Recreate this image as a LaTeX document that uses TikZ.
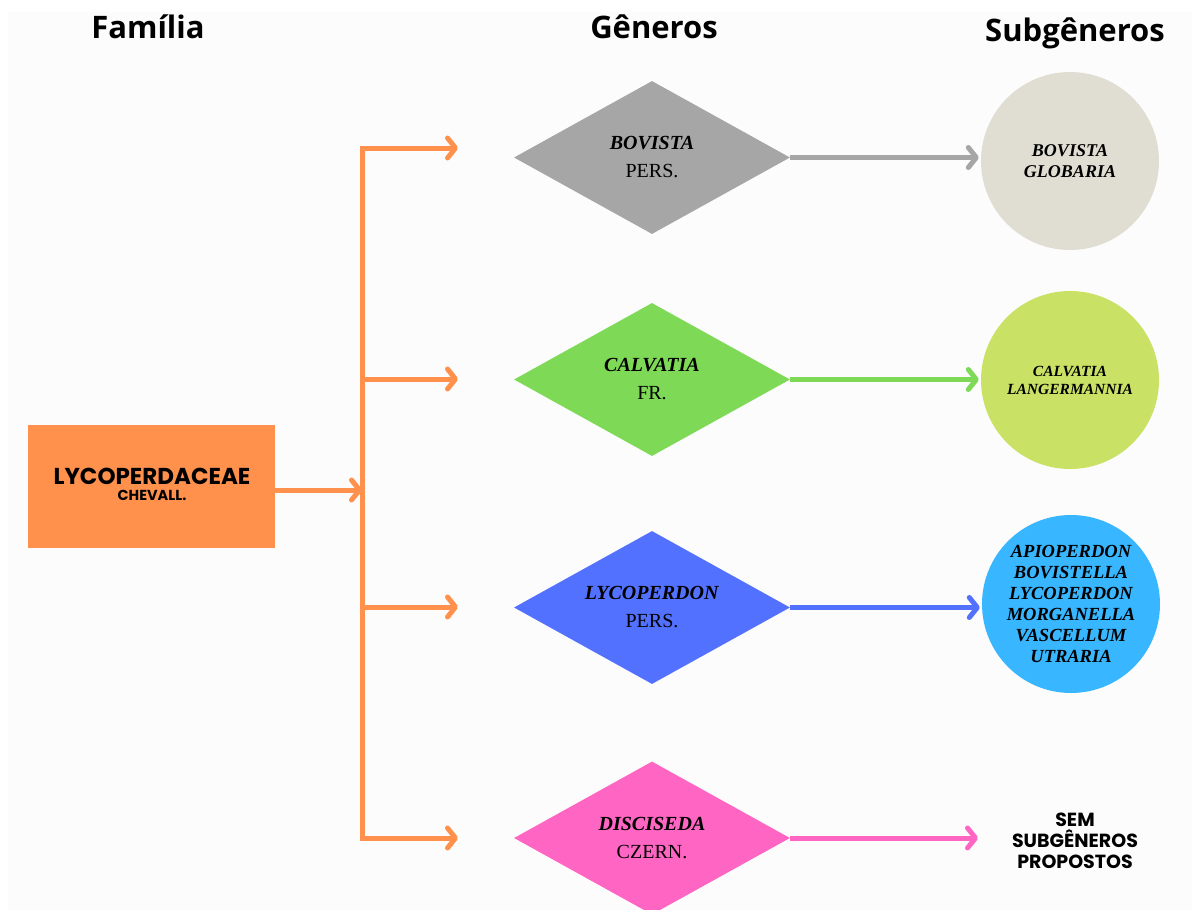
\documentclass[tikz,border=0pt]{standalone}
\usepackage{fontspec}
\setmainfont{Liberation Serif}
\newfontfamily\titlefont{Open Sans}
\newfontfamily\geofont{Poppins}
\usetikzlibrary{shapes.geometric,arrows.meta}
\definecolor{bg}{HTML}{FCFCFC}
\definecolor{orng}{HTML}{FF914D}
\definecolor{gry}{HTML}{A6A6A6}
\definecolor{grn}{HTML}{7ED957}
\definecolor{blu}{HTML}{5271FF}
\definecolor{pnk}{HTML}{FF66C4}
\definecolor{beig}{HTML}{E0DED3}
\definecolor{lime}{HTML}{C9E265}
\definecolor{sky}{HTML}{38B6FF}
\tikzset{
  x=1pt,y=-1pt,
  title/.style={font=\titlefont\bfseries\fontsize{31}{34}\selectfont},
  gen/.style={diamond,minimum width=276pt,minimum height=153pt,inner sep=0pt,aspect=1.8,align=center,font=\fontsize{20}{28}\selectfont,fill=#1},
  sub/.style={circle,minimum size=178pt,inner sep=0pt,align=center,fill=#1},
  conn/.style={line width=5pt,#1,-{Straight Barb[length=8pt,width=20pt,line cap=round,line join=round]}},
}
\begin{document}
\begin{tikzpicture}
\useasboundingbox (0,0) rectangle (1192,910);
\fill[white] (0,0) rectangle (1192,910);
\fill[bg] (8,12) rectangle (1192,910);
% titles
\node[title] (t1) at (148,27) {Família};
\node[title] (t2) at (654,27) {Gêneros};
\node[title] (t3) at (1075,33) {Subgêneros};
% family
\node[fill=orng,minimum width=247pt,minimum height=123pt,inner sep=0pt] (fam) at (151.5,486.5) {};
\node[font=\geofont\bfseries\fontsize{23}{23}\selectfont,inner sep=0pt] (famname) at (152,476) {LYCOPERDACEAE};
\node[font=\geofont\bfseries\fontsize{14.5}{15}\selectfont,inner sep=0pt] (famauth) at (152,495) {CHEVALL.};
% trunk
\coordinate (j0) at (362,490);
\coordinate (top) at (362,148);
\coordinate (bot) at (362,838);
\draw[line width=5pt,orng] (top) -- (bot);
\draw[conn=orng] (fam.east |- j0) -- (j0);
% genera
\node[gen=gry] (g1) at (652,157.5) {\textbf{\textit{BOVISTA}}\\PERS.};
\node[gen=grn] (g2) at (652,379.5) {\textbf{\textit{CALVATIA}}\\FR.};
\node[gen=blu] (g3) at (652,607.5) {\textbf{\textit{LYCOPERDON}}\\PERS.};
\node[gen=pnk] (g4) at (652,838) {\textbf{\textit{DISCISEDA}}\\CZERN.};
\coordinate (b1) at (362,148);
\coordinate (b2) at (362,379);
\coordinate (b3) at (362,607);
\coordinate (b4) at (362,838);
\coordinate (e1) at (458,148);
\coordinate (e2) at (458,379);
\coordinate (e3) at (458,607);
\coordinate (e4) at (458,838);
\draw[conn=orng] ([xshift=-2.5pt]b1) -- (e1);
\draw[conn=orng] (b2) -- (e2);
\draw[conn=orng] (b3) -- (e3);
\draw[conn=orng] ([xshift=-2.5pt]b4) -- (e4);
% subgenera
\node[sub=beig,font=\bfseries\itshape\fontsize{18}{21}\selectfont] (s1) at (1070,161) {BOVISTA\\GLOBARIA};
\node[sub=lime,font=\bfseries\itshape\fontsize{15.5}{18}\selectfont] (s2) at (1070,380) {CALVATIA\\LANGERMANNIA};
\node[sub=sky,font=\bfseries\itshape\fontsize{18.5}{21}\selectfont] (s3) at (1071,604) {APIOPERDON\\BOVISTELLA\\LYCOPERDON\\MORGANELLA\\VASCELLUM\\UTRARIA};
\node[align=center,font=\geofont\bfseries\fontsize{19}{21}\selectfont] (s4) at (1075,841) {SEM\\SUBGÊNEROS\\PROPOSTOS};
\draw[conn=gry] (g1.east) -- ([xshift=-2pt]s1.west |- g1.east);
\draw[conn=grn] (g2.east) -- ([xshift=-2pt]s2.west |- g2.east);
\draw[conn=blu] (g3.east) -- ([xshift=-2pt]s3.west |- g3.east);
\draw[conn=pnk] (g4.east) -- (978,838) coordinate (e5);
\end{tikzpicture}
\end{document}
